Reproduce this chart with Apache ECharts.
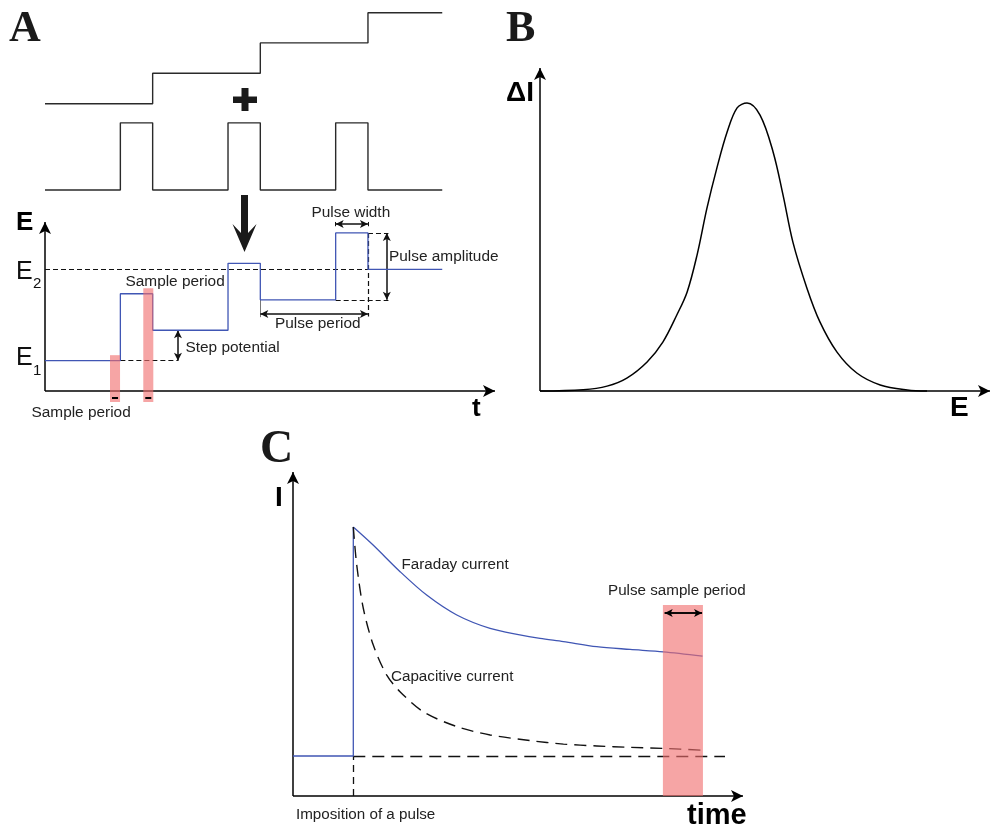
<!DOCTYPE html>
<html><head><meta charset="utf-8">
<script src="https://cdn.jsdelivr.net/npm/echarts/dist/echarts.min.js"></script>
<style>html,body{margin:0;padding:0;background:#fff}#chart{width:992px;height:831px}</style>
</head><body><div id="chart"></div>
<script>
// ---------- Panel A (time in pulse periods, E in step-potential units) ----------
const stairT = [0, 1, 2, 3, 3.69];
const stairE = [9.45, 10.45, 11.45, 12.44];
const pulseTrainT = [0, 0.7, 1.0, 1.7, 2.0, 2.7, 3.0, 3.69];
const pulseTrainE = [6.61, 8.82, 6.61, 8.82, 6.61, 8.82, 6.61];
const dpvT = [0, 0.7, 1.0, 1.7, 2.0, 2.7, 3.0, 3.69];
const dpvE = [1.0, 3.2, 2.0, 4.2, 3.0, 5.2, 4.0];
const sampleWindowsA = [[0.604, 0.697, 1.18], [0.913, 1.006, 3.38]]; // start, end, top
// ---------- Panel B (E and ΔI in % of range / peak) ----------
const peakE  = [0, 9.6, 14.9, 19.3, 23.8, 27.3, 30.4, 32.7, 34.9, 37.1, 39.3, 41.6, 43.8, 46.0, 48.9, 51.8, 54.0, 56.2, 59.3, 62.2, 66.0, 70.4, 75.6, 81.6, 86.0];
const peakDI = [0, 0.45, 1.7, 4.5, 10.1, 17.0, 26.4, 34.4, 47.2, 63.5, 77.4, 90.0, 98.3, 100, 95.8, 83.0, 68.1, 51.7, 35.8, 24.0, 13.5, 6.25, 2.1, 0.35, 0];
// ---------- Panel C (time and I in % of range / peak) ----------
const faradayT = [13.4, 17.8, 23.8, 29.7, 36.4, 43.8, 50.4, 54.9, 60.1, 67.5, 74.9, 82.3, 91.0];
const faradayI = [100, 93.3, 83.4, 74.7, 67.3, 62.3, 59.9, 58.6, 57.4, 55.5, 54.5, 53.6, 52.0];
const capT = [13.4, 14.16, 15.62, 17.84, 20.8, 23.78, 28.96, 36.4, 43.8, 52.7, 60.1, 67.5, 74.9, 82.3, 91.0];
const capI = [100, 85.9, 69.8, 56.1, 45.0, 38.8, 31.3, 25.8, 22.7, 20.6, 19.3, 18.6, 18.1, 17.7, 17.0];
const baseI = 14.87, pulseOnT = 13.4, baseEndT = 96.0;
const sampleWindowC = [[82.2, 91.1, 71.0]];

const BLUE = '#4056b4', INK = '#111', TXT = '#222';
const A_TMAX = 4.18, A_EMAX = 5.56;

function stepPoints(T, L) {
  const pts = [];
  for (let i = 0; i < L.length; i++) { pts.push([T[i], L[i]]); pts.push([T[i + 1], L[i]]); }
  return pts;
}
function zip(a, b) { return a.map((v, i) => [v, b[i]]); }
function seg(p1, p2, o) {
  o = o || {};
  const ls = { color: o.color || INK, width: o.width || 1.2, type: o.dash ? o.dash : 'solid' };
  const sz = o.size || [6, 8];
  return [
    { coord: p1, symbol: o.s1 || 'none', symbolSize: sz, lineStyle: ls },
    { coord: p2, symbol: o.s2 || 'none', symbolSize: sz }
  ];
}
const AX = { color: '#000', width: 1.5, s2: 'arrow', size: [9, 12] };
const DA = [5, 3], DC = [12, 7];

const E1 = dpvE[0], E2 = dpvE[6];
const stepX = 1.235, ampX = 3.175, perY = 2.53, widY = 5.49;
const mlA = [
  seg([0, 0], [A_TMAX, 0], AX),
  seg([0, 0], [0, A_EMAX], AX),
  seg([0, E2], [dpvT[6], E2], { dash: DA }),
  seg([dpvT[1], E1], [stepX, E1], { dash: DA }),
  seg([stepX, E1], [stepX, dpvE[2]], { s1: 'arrow', s2: 'arrow', width: 1.5 }),
  seg([dpvT[5], widY], [dpvT[6], widY], { s1: 'arrow', s2: 'arrow', width: 1.5 }),
  seg([dpvT[5], widY - 0.07], [dpvT[5], widY + 0.07], { width: 1 }),
  seg([dpvT[6], widY - 0.07], [dpvT[6], widY + 0.07], { width: 1 }),
  seg([dpvT[6], dpvE[5]], [ampX + 0.015, dpvE[5]], { dash: DA }),
  seg([dpvT[5], dpvE[4]], [ampX + 0.015, dpvE[4]], { dash: DA }),
  seg([ampX, dpvE[4]], [ampX, dpvE[5]], { s1: 'arrow', s2: 'arrow', width: 1.5 }),
  seg([dpvT[6], dpvE[5]], [dpvT[6], 2.45], { dash: DA }),
  seg([dpvT[4], dpvE[4]], [dpvT[4], 2.43], { color: '#777', width: 1 }),
  seg([dpvT[4], perY], [dpvT[6], perY], { s1: 'arrow', s2: 'arrow', width: 1.5 })
];
const mlB = [
  seg([0, 0], [100, 0], AX),
  seg([0, 0], [0, 112.15], AX)
];
const mlC = [
  seg([0, 0], [100, 0], AX),
  seg([0, 0], [0, 120.45], AX),
  seg([pulseOnT, baseI], [baseEndT, baseI], { dash: DC, width: 1.3 }),
  seg([pulseOnT, 0], [pulseOnT, baseI], { dash: [7, 5], width: 1.3 })
];

function windowRender(bottomVal, marks) {
  return function (params, api) {
    const t0 = api.value(0), t1 = api.value(1), top = api.value(2);
    const a = api.coord([t0, top]), b = api.coord([t1, bottomVal]);
    const ch = [{ type: 'rect', shape: { x: a[0], y: a[1], width: b[0] - a[0], height: b[1] - a[1] },
                  style: { fill: 'rgba(240,110,110,0.62)' } }];
    if (marks) {
      ch.push({ type: 'line', shape: { x1: a[0] + 2, y1: b[1] - 4, x2: b[0] - 2, y2: b[1] - 4 },
                style: { stroke: '#000', lineWidth: 2 } });
    }
    return { type: 'group', children: ch };
  };
}
function mk(data) { return { silent: true, symbol: ['none', 'none'], label: { show: false }, z: 2, animation: false, emphasis: { disabled: true }, data: data }; }

const FONT = 'Liberation Sans, Arial, sans-serif';
function txt(x, y, s, size, opt) {
  opt = opt || {};
  return { type: 'text', x: x, y: y, silent: true, z: 100,
    style: { text: s, fontSize: size, fontFamily: opt.family || FONT, fontWeight: opt.bold ? 'bold' : 'normal',
             fill: opt.fill || TXT, align: opt.align || 'left', verticalAlign: 'middle' } };
}
const SERIF = 'Liberation Serif, Times New Roman, serif';
const graphics = [
  txt(9, 30, 'A', 44, { bold: true, family: SERIF, fill: '#1a1a1a' }),
  txt(506, 30, 'B', 44, { bold: true, family: SERIF, fill: '#1a1a1a' }),
  txt(260, 450, 'C', 46, { bold: true, family: SERIF, fill: '#1a1a1a' }),
  { type: 'rect', z: 100, shape: { x: 233, y: 96.5, width: 24, height: 6.5 }, style: { fill: '#1a1a1a' } },
  { type: 'rect', z: 100, shape: { x: 241.5, y: 88, width: 7, height: 23 }, style: { fill: '#1a1a1a' } },
  { type: 'polygon', z: 100, shape: { points: [[241, 195], [241, 233], [232.5, 224], [244.5, 252], [256.5, 224], [248, 233], [248, 195]] }, style: { fill: '#1a1a1a' } },
  txt(16, 222.5, 'E', 26, { bold: true, fill: '#000' }),
  txt(472, 409, 't', 26, { bold: true, fill: '#000' }),
  txt(16, 272.5, 'E', 25, { fill: '#111' }),
  txt(33, 284, '2', 15, { fill: '#111' }),
  txt(16, 358.5, 'E', 25, { fill: '#111' }),
  txt(33, 371, '1', 15, { fill: '#111' }),
  txt(125.5, 282, 'Sample period', 15.4),
  txt(31.5, 412.5, 'Sample period', 15.4),
  txt(185.5, 347.5, 'Step potential', 15.4),
  txt(311.5, 213, 'Pulse width', 15.4),
  txt(389, 257, 'Pulse amplitude', 15.4),
  txt(275, 324, 'Pulse period', 15.4),
  txt(506, 93.5, 'ΔI', 28, { bold: true, fill: '#000' }),
  txt(950, 408, 'E', 28, { bold: true, fill: '#000' }),
  txt(275, 498, 'I', 28, { bold: true, fill: '#000' }),
  txt(687, 816, 'time', 29, { bold: true, fill: '#000' }),
  txt(401.5, 564.5, 'Faraday current', 15.2),
  txt(391, 676.5, 'Capacitive current', 15.2),
  txt(608, 590.5, 'Pulse sample period', 15.2),
  txt(296, 814.5, 'Imposition of a pulse', 15.2)
];

const lineBase = { type: 'line', showSymbol: false, symbol: 'none', clip: false, silent: true, animation: false, z: 2 };
const option = {
  animation: false,
  backgroundColor: '#fff',
  grid: [
    { left: 45, top: 0, width: 450, height: 402 },
    { left: 540, top: 68, width: 450, height: 323 },
    { left: 293, top: 472, width: 450, height: 324 }
  ],
  xAxis: [
    { gridIndex: 0, type: 'value', min: 0, max: A_TMAX, show: false },
    { gridIndex: 1, type: 'value', min: 0, max: 100, show: false },
    { gridIndex: 2, type: 'value', min: 0, max: 100, show: false }
  ],
  yAxis: [
    { gridIndex: 0, type: 'value', min: -0.36, max: 12.86, show: false },
    { gridIndex: 1, type: 'value', min: 0, max: 112.15, show: false },
    { gridIndex: 2, type: 'value', min: 0, max: 120.45, show: false }
  ],
  series: [
    Object.assign({}, lineBase, { name: 'staircase', xAxisIndex: 0, yAxisIndex: 0, data: stepPoints(stairT, stairE), lineStyle: { color: '#2a2a2a', width: 1.4 } }),
    Object.assign({}, lineBase, { name: 'pulses', xAxisIndex: 0, yAxisIndex: 0, data: stepPoints(pulseTrainT, pulseTrainE), lineStyle: { color: '#2a2a2a', width: 1.4 } }),
    Object.assign({}, lineBase, { name: 'DPV waveform', xAxisIndex: 0, yAxisIndex: 0, data: stepPoints(dpvT, dpvE), lineStyle: { color: BLUE, width: 1.3 }, markLine: mk(mlA) }),
    { type: 'custom', name: 'sample A', xAxisIndex: 0, yAxisIndex: 0, clip: false, silent: true, z: 3,
      renderItem: windowRender(-0.36, true), data: sampleWindowsA },
    Object.assign({}, lineBase, { name: 'ΔI', xAxisIndex: 1, yAxisIndex: 1, data: zip(peakE, peakDI), smooth: 0.35, lineStyle: { color: '#000', width: 1.5 }, markLine: mk(mlB) }),
    Object.assign({}, lineBase, { name: 'baseline', xAxisIndex: 2, yAxisIndex: 2, data: [[0, baseI], [pulseOnT, baseI], [pulseOnT, faradayI[0]]], lineStyle: { color: BLUE, width: 1.3 }, markLine: mk(mlC) }),
    Object.assign({}, lineBase, { name: 'Faraday', xAxisIndex: 2, yAxisIndex: 2, data: zip(faradayT, faradayI), smooth: 0.3, lineStyle: { color: BLUE, width: 1.3 } }),
    Object.assign({}, lineBase, { name: 'Capacitive', xAxisIndex: 2, yAxisIndex: 2, data: zip(capT, capI), smooth: 0.3, lineStyle: { color: '#111', width: 1.4, type: DC } }),
    { type: 'custom', name: 'sample C', xAxisIndex: 2, yAxisIndex: 2, clip: false, silent: true, z: 3,
      renderItem: windowRender(0, false), data: sampleWindowC },
    Object.assign({}, lineBase, { name: 'sample arrow', xAxisIndex: 2, yAxisIndex: 2, z: 4, data: [[82.6, 68], [90.9, 68]], lineStyle: { color: '#000', width: 1.5 },
      markLine: Object.assign(mk([seg([82.6, 68], [90.9, 68], { s1: 'arrow', s2: 'arrow', width: 1.5, color: '#000' })]), { z: 4 }) })
  ],
  graphic: graphics
};
const chart = echarts.init(document.getElementById('chart'));
chart.setOption(option);
</script></body></html>
